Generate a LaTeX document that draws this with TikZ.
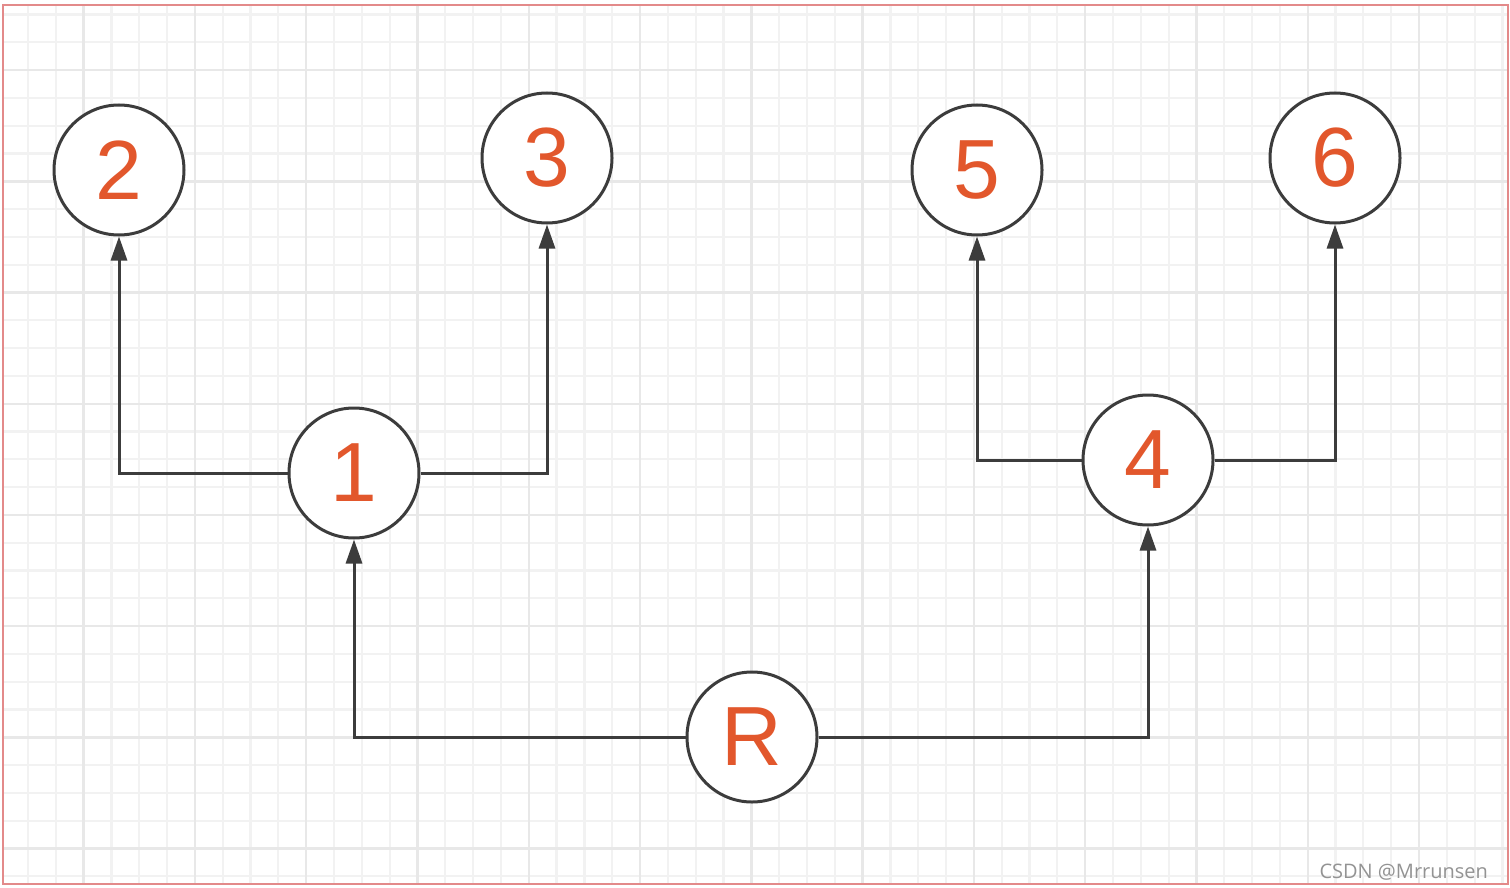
\documentclass[tikz,border=0pt]{standalone}
\usepackage{fontspec}
\setmainfont{Liberation Sans}
\newfontfamily\markfont{Open Sans}
\usetikzlibrary{arrows.meta}
\definecolor{inkred}{HTML}{E2572C}
\definecolor{edgegray}{HTML}{3C3C3C}
\definecolor{gridminor}{HTML}{F2F2F2}
\definecolor{gridmajor}{HTML}{E8E8E8}
\definecolor{framered}{HTML}{E38A8A}
\tikzset{
    tree/.style={
        vertex/.style={circle, draw=edgegray, line width=1.5pt, fill=white,
            minimum size=65pt, inner sep=0pt, text=inkred,
            font=\fontsize{42}{42}\selectfont},
        link/.style={-{Triangle[length=12pt, width=8pt]}, draw=edgegray,
            line width=1.5pt},
    },
}

\begin{document}
\begin{tikzpicture}[tree, x=0.5pt, y=-0.5pt]
            \useasboundingbox (0,0) rectangle (1510,888);
            \fill[white] (0,0) rectangle (1510,888);

            % grid
            \foreach \k in {0,...,53}
            \draw[gridminor, line width=1.1pt] ({28+27.82*\k},6) -- ({28+27.82*\k},883);
            \foreach \k in {0,...,31}
            \draw[gridminor, line width=1.1pt] (4,{14.5+27.8*\k}) -- (1507,{14.5+27.8*\k});
            \foreach \k in {2,6,...,50}
            \draw[gridmajor, line width=1.2pt] ({28+27.82*\k},6) -- ({28+27.82*\k},883);
            \foreach \k in {2,6,...,30}
            \draw[gridmajor, line width=1.2pt] (4,{14.5+27.8*\k}) -- (1507,{14.5+27.8*\k});
            \draw[framered, line width=1pt] (3,5) rectangle (1508,884);

            \node[vertex] (R) at (752,737)  {R};
            \node[vertex] (1) at (354,473)  {1};
            \node[vertex] (4) at (1148,460) {4};
            \node[vertex] (2) at (119,170)  {2};
            \node[vertex] (3) at (547,158)  {3};
            \node[vertex] (5) at (977,170)  {5};
            \node[vertex] (6) at (1335,158) {6};

            \draw[link] (R) -| (1);  \draw[link] (R) -| (4);
            \draw[link] (1) -| (2);  \draw[link] (1) -| (3);
            \draw[link] (4) -| (5);  \draw[link] (4) -| (6);

            \node[anchor=base east, text=gray!85, font=\markfont\fontsize{10}{10}\selectfont]
                (mark) at (1495,878) {CSDN @Mrrunsen};
        \end{tikzpicture}
\end{document}
